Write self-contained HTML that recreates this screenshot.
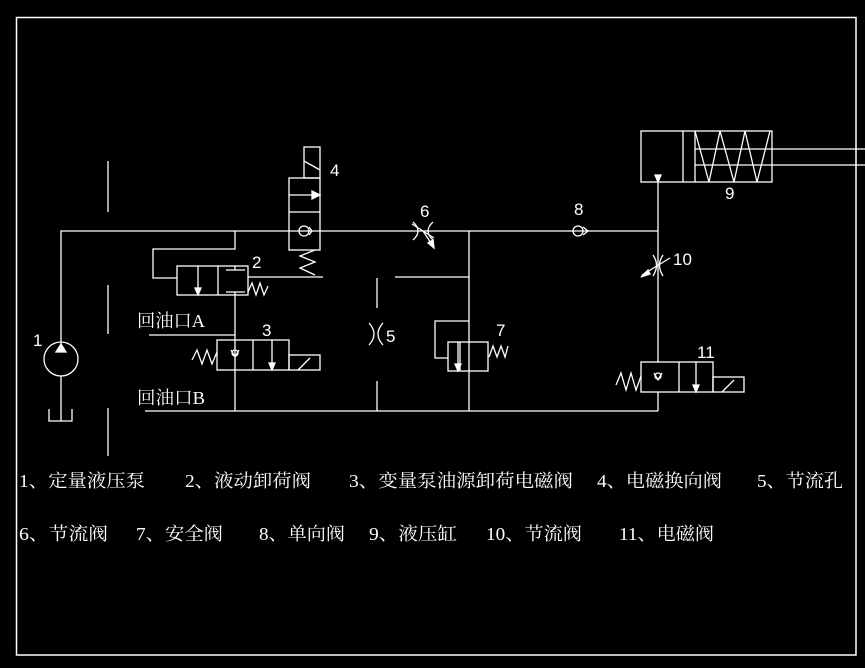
<!DOCTYPE html>
<html><head><meta charset="utf-8"><style>
html,body{margin:0;padding:0;background:#000;}
svg{display:block;}
text{fill:#fff;}
.c{font-family:"Liberation Serif","Noto Serif CJK SC",serif;font-size:18px;}
.n{font-family:"Liberation Sans",sans-serif;font-size:17px;}
</style></head><body>
<svg width="865" height="668" viewBox="0 0 865 668" xmlns="http://www.w3.org/2000/svg">
<g stroke="#fff" stroke-width="1.3" fill="none">
<rect x="16.5" y="17.5" width="839.5" height="637.5" stroke-width="1.5"/>
<line x1="108" y1="161" x2="108" y2="212"/>
<line x1="108" y1="285" x2="108" y2="334"/>
<line x1="108" y1="408" x2="108" y2="456"/>
<line x1="377" y1="278" x2="377" y2="308"/>
<line x1="377" y1="381" x2="377" y2="411"/>
<polyline points="61,344 61,231 658,231"/>
<circle cx="61" cy="359" r="17"/>
<polygon points="61,344 56,352 66,352" fill="#fff"/>
<line x1="61" y1="376" x2="61" y2="421"/>
<polyline points="49,409 49,421 72,421 72,409"/>
<rect x="304" y="147" width="16" height="31"/>
<line x1="304" y1="161" x2="320" y2="170"/>
<rect x="289" y="178" width="31" height="72"/>
<line x1="289" y1="212" x2="320" y2="212"/>
<line x1="289" y1="195" x2="318" y2="195"/>
<polygon points="320,195 312,191 312,199" fill="#fff"/>
<circle cx="304" cy="231" r="5"/>
<polyline points="309,227 312,231 309,235"/>
<polyline points="315,250 300,256 315,262 300,268 315,275"/>
<polyline points="235,231 235,249 153,249 153,278 177,278"/>
<rect x="177" y="266" width="71" height="29"/>
<line x1="218" y1="266" x2="218" y2="295"/>
<line x1="198" y1="266" x2="198" y2="290"/>
<polygon points="198,295 195,288 201,288" fill="#fff"/>
<line x1="235" y1="266" x2="235" y2="270"/><line x1="226" y1="270" x2="245" y2="270"/>
<line x1="226" y1="292" x2="245" y2="292"/>
<line x1="248" y1="277" x2="323" y2="277"/>
<polyline points="248,292 252,283 256,295 260,283 264,295 268,286"/>
<line x1="235" y1="292" x2="235" y2="411"/>
<line x1="149" y1="335" x2="235" y2="335"/>
<rect x="217" y="340" width="72" height="30"/>
<line x1="253" y1="340" x2="253" y2="370"/>
<circle cx="235" cy="353" r="3"/>
<polyline points="231,350 235,357 239,350"/>
<line x1="272" y1="340" x2="272" y2="364"/>
<polygon points="272,370 269,363 275,363" fill="#fff"/>
<rect x="289" y="355" width="31" height="15"/>
<line x1="298" y1="370" x2="310" y2="358"/>
<polyline points="192,360 197,350 202,364 207,350 212,364 217,352"/>
<line x1="145" y1="411" x2="658" y2="411"/>
<path d="M413,222 Q423,231 413,240 M433,222 Q423,231 433,240"/>
<line x1="412" y1="224" x2="434" y2="238"/>
<line x1="423" y1="231" x2="433" y2="246"/>
<polygon points="434,248 428,243 433,240" fill="#fff"/>
<line x1="469" y1="231" x2="469" y2="411"/>
<line x1="395" y1="277" x2="469" y2="277"/>
<path d="M369,323 Q379,334 369,345 M383,323 Q373,334 383,345"/>
<polyline points="469,321 435,321 435,358 448,358"/>
<rect x="448" y="342" width="40" height="29"/>
<line x1="460" y1="342" x2="460" y2="371"/>
<line x1="458" y1="342" x2="458" y2="365"/>
<polygon points="458,371 455,364 461,364" fill="#fff"/>
<polyline points="489,357 493,346 497,357 501,346 505,357 508,346"/>
<circle cx="578" cy="231" r="5"/>
<polyline points="583,227 588,231 583,235"/>
<rect x="641" y="131" width="131" height="51"/>
<line x1="683" y1="131" x2="683" y2="182"/>
<line x1="695" y1="131" x2="695" y2="182"/>
<line x1="695" y1="149" x2="865" y2="149"/>
<line x1="695" y1="165" x2="865" y2="165"/>
<polyline points="695,131 709,182 720,131 734,182 745,131 757,182 770,131"/>
<line x1="658" y1="182" x2="658" y2="362"/>
<polygon points="658,182 655,175 661,175" fill="#fff"/>
<path d="M653,255 Q660,265 653,276 M663,255 Q656,265 663,276"/>
<line x1="642" y1="275" x2="670" y2="258"/>
<polygon points="641,277 648,270 650,274" fill="#fff"/>
<rect x="641" y="362" width="72" height="30"/>
<line x1="679" y1="362" x2="679" y2="392"/>
<circle cx="658" cy="376" r="3"/>
<polyline points="654,373 658,380 662,373"/>
<line x1="696" y1="362" x2="696" y2="386"/>
<polygon points="696,392 693,385 699,385" fill="#fff"/>
<rect x="713" y="377" width="31" height="15"/>
<line x1="722" y1="392" x2="734" y2="380"/>
<polyline points="616,385 621,373 626,390 631,373 636,390 641,376"/>
<line x1="658" y1="392" x2="658" y2="411"/>
</g>
<text class="n" x="33" y="346">1</text>
<text class="n" x="330" y="176">4</text>
<text class="n" x="252" y="268">2</text>
<text class="n" x="262" y="336">3</text>
<text class="n" x="386" y="342">5</text>
<text class="n" x="420" y="217">6</text>
<text class="n" x="496" y="336">7</text>
<text class="n" x="574" y="215">8</text>
<text class="n" x="725" y="199">9</text>
<text class="n" x="673" y="265">10</text>
<text class="n" x="697" y="358">11</text>
<text class="c" x="137" y="327" textLength="68" lengthAdjust="spacingAndGlyphs">回油口A</text>
<text class="c" x="137" y="404" textLength="68" lengthAdjust="spacingAndGlyphs">回油口B</text>
<g class="c">
<text x="19" y="487" textLength="126" lengthAdjust="spacingAndGlyphs">1、定量液压泵</text>
<text x="185" y="487" textLength="126" lengthAdjust="spacingAndGlyphs">2、液动卸荷阀</text>
<text x="349" y="487" textLength="224" lengthAdjust="spacingAndGlyphs">3、变量泵油源卸荷电磁阀</text>
<text x="597" y="487" textLength="125" lengthAdjust="spacingAndGlyphs">4、电磁换向阀</text>
<text x="757" y="487" textLength="86" lengthAdjust="spacingAndGlyphs">5、节流孔</text>
<text x="19" y="540" textLength="89" lengthAdjust="spacingAndGlyphs">6、节流阀</text>
<text x="136" y="540" textLength="87" lengthAdjust="spacingAndGlyphs">7、安全阀</text>
<text x="259" y="540" textLength="86" lengthAdjust="spacingAndGlyphs">8、单向阀</text>
<text x="369" y="540" textLength="88" lengthAdjust="spacingAndGlyphs">9、液压缸</text>
<text x="486" y="540" textLength="96" lengthAdjust="spacingAndGlyphs">10、节流阀</text>
<text x="619" y="540" textLength="95" lengthAdjust="spacingAndGlyphs">11、电磁阀</text>
</g>
</svg>
</body></html>
